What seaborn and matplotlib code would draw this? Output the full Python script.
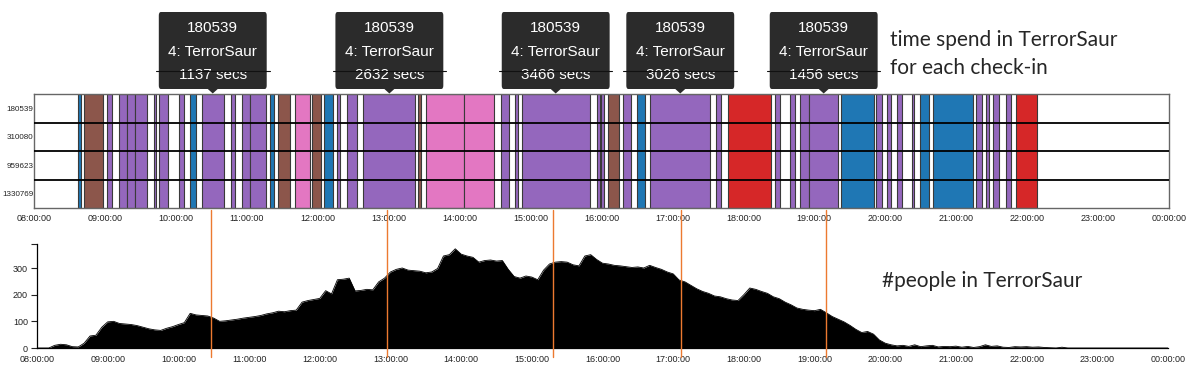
import numpy as np
import matplotlib
matplotlib.use("Agg")
import matplotlib.pyplot as plt
import matplotlib.transforms as mtransforms
from matplotlib.patches import FancyBboxPatch, Polygon
import seaborn as sns

# ---- data ----
visitor_ids = ["180539", "310080", "959623", "1330769"]
hour_ticks = list(range(8, 25))
hour_labels = ["08:00:00", "09:00:00", "10:00:00", "11:00:00", "12:00:00",
               "13:00:00", "14:00:00", "15:00:00", "16:00:00", "17:00:00",
               "18:00:00", "19:00:00", "20:00:00", "21:00:00", "22:00:00",
               "23:00:00", "00:00:00"]

# check-in segments in decimal hours, with the ride visited
seg_start = [8.624, 8.700, 9.028, 9.200, 9.310, 9.427, 9.686, 9.765, 10.038, 10.197,
             10.362, 10.784, 10.930, 11.040, 11.330, 11.440, 11.680, 11.925, 12.090, 12.277,
             12.410, 12.644, 13.410, 13.530, 14.060, 14.580, 14.780, 14.873, 15.940, 15.986,
             16.090, 16.310, 16.500, 16.690, 17.615, 17.780, 18.440, 18.660, 18.800, 18.930,
             19.370, 19.870, 20.020, 20.170, 20.376, 20.483, 20.670, 21.280, 21.420, 21.525,
             21.700, 21.845]
seg_end = [8.662, 8.967, 9.099, 9.310, 9.427, 9.587, 9.718, 9.883, 10.108, 10.282,
           10.678, 10.831, 11.040, 11.270, 11.390, 11.610, 11.890, 12.040, 12.210, 12.310,
           12.560, 13.375, 13.460, 14.060, 14.490, 14.690, 14.820, 15.836, 15.975, 16.030,
           16.250, 16.410, 16.610, 17.531, 17.685, 18.390, 18.520, 18.730, 18.930, 19.334,
           19.835, 19.950, 20.080, 20.230, 20.410, 20.610, 21.230, 21.360, 21.460, 21.605,
           21.770, 22.136]
seg_ride = ["blue", "brown", "purple", "purple", "purple", "purple", "purple", "purple", "purple", "blue",
            "purple", "purple", "purple", "purple", "blue", "brown", "pink", "brown", "blue", "purple",
            "purple", "purple", "brown", "pink", "pink", "purple", "purple", "purple", "purple", "purple",
            "brown", "purple", "blue", "purple", "purple", "red", "purple", "purple", "purple", "purple",
            "blue", "purple", "purple", "purple", "purple", "blue", "blue", "purple", "purple", "purple",
            "purple", "red"]
ride_colors = {"blue": "#1f77b4", "brown": "#8c564b", "purple": "#9467bd",
               "pink": "#e377c2", "red": "#d62728"}

# tooltips
tip_id = "180539"
tip_ride = "4: TerrorSaur"
tip_start = [10.362, 12.644, 14.873, 16.690, 18.930]
tip_secs = [1137, 2632, 3466, 3026, 1456]

# orange markers
marker_hours = [10.46, 12.95, 15.30, 17.11, 19.16]

# #people in TerrorSaur, every 5 minutes from 08:00
people = [
    0, 0, 0, 10, 14, 12, 5, 4, 18, 45, 48, 78,                           # 08
    98, 100, 92, 90, 88, 84, 78, 72, 68, 66, 74, 80,                     # 09
    88, 95, 130, 124, 122, 120, 112, 100, 102, 105, 108, 112,            # 10
    115, 118, 122, 128, 132, 138, 136, 140, 142, 172, 178, 182,          # 11
    186, 215, 203, 256, 258, 262, 214, 216, 220, 218, 248, 262,          # 12
    285, 295, 300, 292, 290, 288, 282, 285, 298, 345, 350, 372,          # 13
    352, 345, 340, 322, 328, 330, 326, 328, 295, 268, 262, 270,          # 14
    266, 256, 292, 315, 322, 324, 322, 312, 308, 345, 350, 332,          # 15
    318, 315, 310, 308, 305, 302, 304, 300, 310, 302, 295, 285,          # 16
    278, 255, 248, 235, 222, 212, 205, 195, 192, 185, 180, 178,          # 17
    200, 225, 220, 212, 205, 192, 185, 172, 162, 150, 145, 142,          # 18
    140, 145, 132, 118, 108, 98, 85, 70, 58, 62, 52, 30,                 # 19
    18, 12, 8, 10, 6, 12, 5, 8, 10, 4, 6, 5,                             # 20
    7, 3, 6, 2, 5, 12, 6, 8, 3, 2, 5, 4,                                 # 21
    5, 3, 4, 2, 1, 0, 3, 0, 0, 0, 0, 0,                                  # 22
    0, 0, 0, 0, 0, 0, 0, 0, 0, 0, 0, 0,                                  # 23
    0,
]
people_hours = 8 + np.arange(len(people)) / 12.0

# ---- style ----
sns.set_theme(style="white")
plt.rcParams["font.family"] = ["Liberation Sans", "DejaVu Sans"]

W, H = 1189, 370
fig = plt.figure(figsize=(W / 100, H / 100), dpi=100)
ax_top = fig.add_axes([34 / W, 1 - 208 / H, 1135 / W, 114 / H])
ax_bot = fig.add_axes([37 / W, 1 - 348 / H, 1131 / W, 104 / H])

# ---- top: check-in timeline ----
n = len(visitor_ids)
for s, e, r in zip(seg_start, seg_end, seg_ride):
    ax_top.bar(s, n, width=e - s, bottom=0, align="edge", color=ride_colors[r],
               edgecolor="#3a3a3a", linewidth=0.8, zorder=2)
for k in range(1, n):
    ax_top.axhline(k, color="black", lw=1.3, zorder=3)
ax_top.set_xlim(8, 24)
ax_top.set_ylim(n, 0)
ax_top.set_yticks(np.arange(n) + 0.5, visitor_ids)
ax_top.set_xticks(hour_ticks, hour_labels)
ax_top.tick_params(axis="x", length=0, labelsize=6.5, pad=4, colors="#222")
ax_top.tick_params(axis="y", length=0, labelsize=5.8, pad=0.5, colors="#222")
for sp in ax_top.spines.values():
    sp.set_color("#666")
    sp.set_linewidth(1.0)

# tooltips above the highlighted check-ins
trans = mtransforms.blended_transform_factory(ax_top.transData, ax_top.transAxes)
ax_h = 114.0
box_w = 108 / 71.0
y0 = (208 - 89) / ax_h
y1 = (208 - 12) / ax_h
for start, secs in zip(tip_start, tip_secs):
    c = start + secs / 7200.0
    box = FancyBboxPatch((c - box_w / 2, y0), box_w, y1 - y0,
                         boxstyle="round,pad=0,rounding_size=0.03",
                         transform=trans, facecolor="#2b2b2b", edgecolor="none",
                         clip_on=False, zorder=5)
    ax_top.add_patch(box)
    tri = Polygon([(c - 0.07, y0), (c + 0.07, y0), (c, y0 - 4.5 / ax_h)], closed=True,
                  transform=trans, facecolor="#2b2b2b", edgecolor="none",
                  clip_on=False, zorder=5)
    ax_top.add_patch(tri)
    for txt, ypx in zip([tip_id, tip_ride, f"{secs} secs"], [28, 52, 75]):
        ax_top.text(c, (208 - ypx) / ax_h, txt, transform=trans, ha="center",
                    va="center", color="white", fontsize=11, zorder=6)
    ax_top.plot([c - box_w / 2 - 0.04, c + box_w / 2 + 0.04],
                [(208 - 71) / ax_h] * 2, transform=trans, color="#111",
                lw=0.8, clip_on=False, zorder=7)

fig.text(890 / W, 1 - 40 / H, "time spend in TerrorSaur", fontsize=15,
         family=["Lato", "DejaVu Sans"], va="center", ha="left")
fig.text(890 / W, 1 - 68 / H, "for each check-in", fontsize=15,
         family=["Lato", "DejaVu Sans"], va="center", ha="left")

# ---- bottom: people in ride ----
ax_bot.fill_between(people_hours, people, 0, color="black", lw=0, zorder=2)
sns.lineplot(x=people_hours, y=people, color="black", lw=0.6, ax=ax_bot, zorder=2)
ax_bot.set_xlim(8, 24)
ax_bot.set_ylim(0, 390)
ax_bot.set_xticks(hour_ticks, hour_labels)
ax_bot.set_yticks([0, 100, 200, 300])
ax_bot.set_yticks([390], minor=True)
ax_bot.tick_params(axis="x", length=0, labelsize=6.5, pad=5, colors="#222")
ax_bot.tick_params(axis="y", which="both", left=True, length=4.5, width=0.8,
                   labelsize=6.5, pad=2, colors="#222")
for side in ["top", "right"]:
    ax_bot.spines[side].set_visible(False)
for side in ["left", "bottom"]:
    ax_bot.spines[side].set_color("black")
    ax_bot.spines[side].set_linewidth(0.9)
ax_bot.set_xlabel("")
ax_bot.set_ylabel("")

for mh in marker_hours:
    ax_bot.axvline(mh, ymin=-0.087, ymax=1.327, color="#ec7a30", lw=1.0,
                   clip_on=False, zorder=4)

fig.text(882 / W, 1 - 281 / H, "#people in TerrorSaur", fontsize=15,
         family=["Lato", "DejaVu Sans"], va="center", ha="left")

fig.savefig("out.png", dpi=100)
